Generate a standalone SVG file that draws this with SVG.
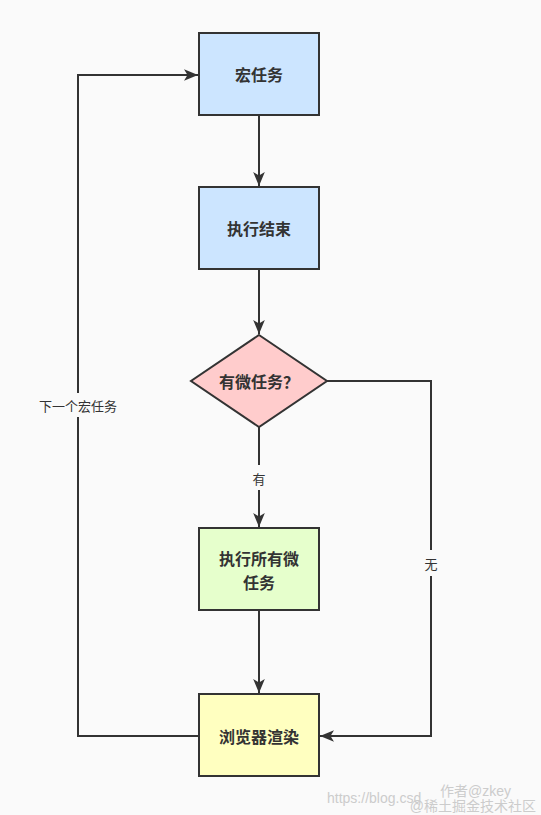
<svg xmlns="http://www.w3.org/2000/svg" width="541" height="815" viewBox="0 0 541 815">
<defs>
<style>
.box{stroke:#333;stroke-width:2}
.t{font-family:"Noto Sans CJK SC","Liberation Sans",sans-serif;font-size:16px;font-weight:bold;fill:#333;text-anchor:middle;dominant-baseline:central}
.lb{font-family:"Noto Sans CJK SC","Liberation Sans",sans-serif;font-size:13px;fill:#333;text-anchor:middle;dominant-baseline:central}
.ln{fill:none;stroke:#333;stroke-width:2}
.wm{font-family:"Liberation Sans","Noto Sans CJK SC",sans-serif;font-size:14px;fill:#ccc}
</style>
<marker id="a" viewBox="0 0 12 10" refX="12" refY="5" markerWidth="14" markerHeight="12" markerUnits="userSpaceOnUse" orient="auto"><path d="M0,0 L12,5 L0,10 L3,5 Z" fill="#333"/></marker>
</defs>
<rect width="541" height="815" fill="#fafafa"/>
<g id="connectors">
<path class="ln" d="M259,115 V186" marker-end="url(#a)"/>
<path class="ln" d="M259,269 V334" marker-end="url(#a)"/>
<path class="ln" d="M259,427 V465 M259,490 V527" marker-end="url(#a)"/>
<path class="ln" d="M259,610 V693" marker-end="url(#a)"/>
<path class="ln" d="M327,381 H431 V550 M431,576 V736 H320" marker-end="url(#a)"/>
<path class="ln" d="M199,736 H78 V417 M78,393 V75 H198" marker-end="url(#a)"/>
<text class="lb" x="259" y="478">有</text>
<text class="lb" x="431" y="563">无</text>
<text class="lb" x="78" y="405">下一个宏任务</text>
</g>
<g id="n1"><rect class="box" x="199" y="33" width="120" height="82" fill="#cce5ff"/><text class="t" x="259" y="74">宏任务</text></g>
<g id="n2"><rect class="box" x="199" y="187" width="120" height="82" fill="#cce5ff"/><text class="t" x="259" y="228">执行结束</text></g>
<g id="n3"><polygon class="box" points="259,335 327,381 259,427 191,381" fill="#ffcccc"/><text class="t" x="259" y="381">有微任务？</text></g>
<g id="n4"><rect class="box" x="199" y="528" width="120" height="82" fill="#e6ffcc"/><text class="t" x="259" y="558">执行所有微</text><text class="t" x="259" y="582">任务</text></g>
<g id="n5"><rect class="box" x="199" y="694" width="120" height="82" fill="#ffffc0"/><text class="t" x="259" y="736">浏览器渲染</text></g>
<g id="watermark">
<text class="wm" x="327" y="803">https://blog.csd</text>
<text class="wm" x="440" y="796" font-size="12" fill="#bbb">作者@zkey</text>
<text class="wm" x="536" y="811" font-size="9" text-anchor="end">@稀土掘金技术社区</text>
</g>
</svg>
